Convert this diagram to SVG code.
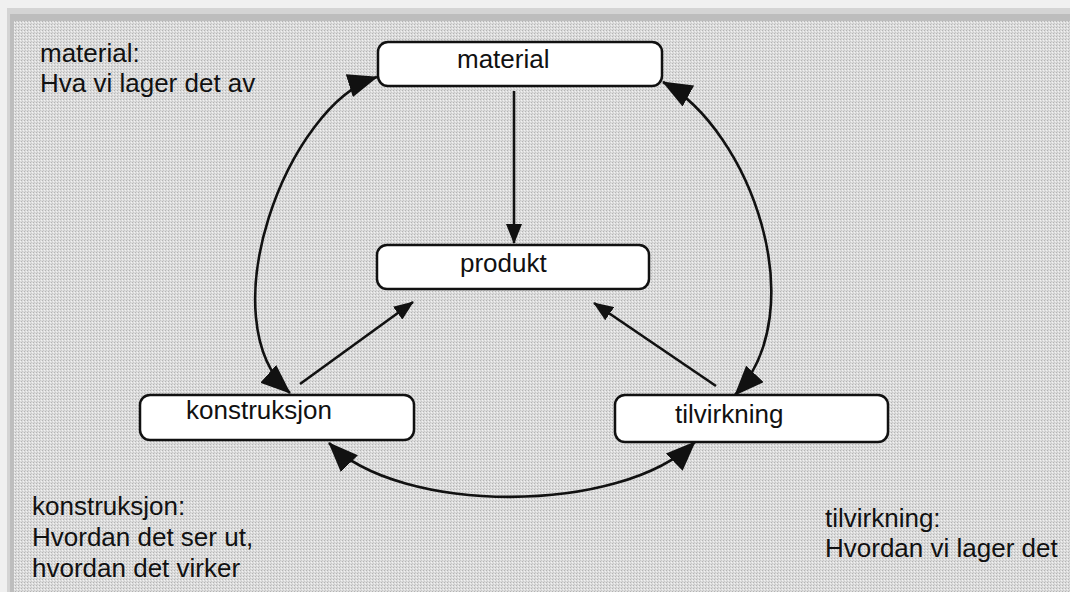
<svg xmlns="http://www.w3.org/2000/svg" width="1070" height="592" viewBox="0 0 1070 592">
  <style>
    .box { fill: #ffffff; stroke: #111111; stroke-width: 2.5; }
    .lbl { font-family: "Liberation Sans", Arial, sans-serif; font-size: 26px; fill: #111111; }
    .con { fill: none; stroke: #111111; stroke-width: 2.6; }
  </style>
  <defs>
    <pattern id="tex" x="0" y="0" width="3" height="3" patternUnits="userSpaceOnUse">
      <rect width="3" height="3" fill="#dcdcdc"/>
      <rect x="0" y="0" width="1" height="1" fill="#b4b4b4"/>
      <rect x="2" y="1" width="1" height="1" fill="#f2f2f2"/>
      <rect x="1" y="2" width="1" height="1" fill="#c8c8c8"/>
    </pattern>
    <marker id="big" markerUnits="userSpaceOnUse" markerWidth="30" markerHeight="24" refX="29" refY="12" orient="auto-start-reverse" viewBox="0 0 30 24">
      <path d="M0,0 L30,12 L0,24 Z" fill="#111111"/>
    </marker>
    <marker id="small" markerUnits="userSpaceOnUse" markerWidth="20" markerHeight="16" refX="19" refY="8" orient="auto" viewBox="0 0 20 16">
      <path d="M0,0 L20,8 L0,16 Z" fill="#111111"/>
    </marker>
  </defs>

  <!-- frame / background -->
  <rect x="0" y="0" width="1070" height="592" fill="#f0f0f0"/>
  <rect x="7" y="8" width="1063" height="584" fill="#d4d4d4"/>
  <rect x="10" y="14" width="1060" height="578" fill="#bdbdbd"/>
  <rect x="14" y="21" width="1056" height="571" fill="url(#tex)"/>

  <!-- free texts -->
  <g id="note-material">
    <text class="lbl" x="40" y="62">material:</text>
    <text class="lbl" x="40" y="92">Hva vi lager det av</text>
  </g>
  <g id="note-konstruksjon">
    <text class="lbl" x="32" y="515">konstruksjon:</text>
    <text class="lbl" x="32" y="546">Hvordan det ser ut,</text>
    <text class="lbl" x="32" y="577">hvordan det virker</text>
  </g>
  <g id="note-tilvirkning">
    <text class="lbl" x="825" y="527">tilvirkning:</text>
    <text class="lbl" x="825" y="557">Hvordan vi lager det</text>
  </g>

  <!-- connectors -->
  <g id="connectors">
    <line class="con" x1="514" y1="91" x2="514" y2="243" marker-end="url(#small)"/>
    <line class="con" x1="300" y1="384" x2="413" y2="302" marker-end="url(#small)"/>
    <line class="con" x1="716" y1="386" x2="594" y2="303" marker-end="url(#small)"/>
    <path class="con" d="M377,77 C287,105 207,320 290,393" marker-start="url(#big)" marker-end="url(#big)"/>
    <path class="con" d="M663,82 C750,130 815,310 735,395" marker-start="url(#big)" marker-end="url(#big)"/>
    <path class="con" d="M329,443 C400,515 620,515 695,442" marker-start="url(#big)" marker-end="url(#big)"/>
  </g>

  <!-- nodes -->
  <g id="node-material">
    <rect class="box" x="378" y="42" width="284" height="44" rx="10"/>
    <text class="lbl" x="457" y="68">material</text>
  </g>
  <g id="node-produkt">
    <rect class="box" x="377" y="245" width="272" height="44" rx="10"/>
    <text class="lbl" x="460" y="272">produkt</text>
  </g>
  <g id="node-konstruksjon">
    <rect class="box" x="140" y="395" width="274" height="45" rx="10"/>
    <text class="lbl" x="186" y="419">konstruksjon</text>
  </g>
  <g id="node-tilvirkning">
    <rect class="box" x="615" y="395" width="273" height="47" rx="10"/>
    <text class="lbl" x="675" y="423">tilvirkning</text>
  </g>
</svg>
